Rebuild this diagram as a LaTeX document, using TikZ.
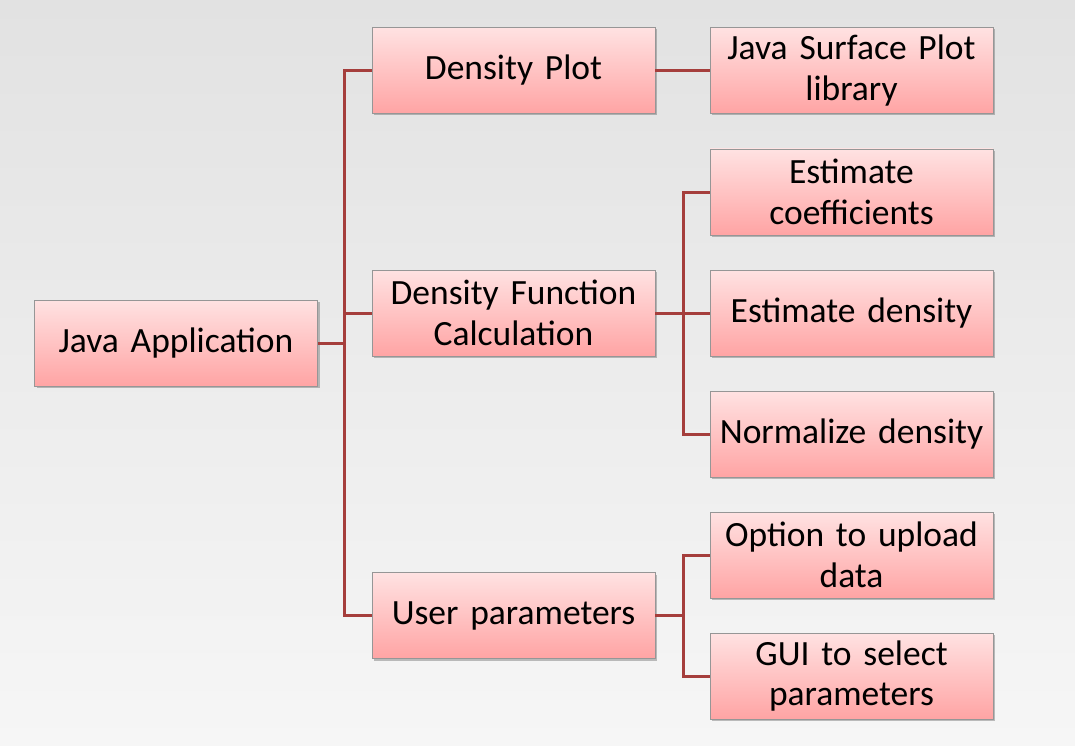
\documentclass[tikz,border=0pt]{standalone}
\usepackage{fontspec}
\setmainfont{Carlito}[WordSpace=0.85]
\usetikzlibrary{shadows}
\definecolor{linered}{RGB}{165,62,60}
\definecolor{boxtop}{RGB}{255,226,226}
\definecolor{boxbot}{RGB}{255,164,164}
\definecolor{boxline}{RGB}{150,150,150}
\definecolor{bgA}{RGB}{226,226,226}
\definecolor{bgB}{RGB}{246,246,246}
\tikzset{
  box/.style={draw=boxline, line width=0.8pt, top color=boxtop, bottom color=boxbot,
    minimum width=283pt, minimum height=86pt, inner sep=1pt, align=center,
    font=\fontsize{35.5}{40.5}\selectfont, text width=281pt,
    drop shadow={shadow xshift=2pt, shadow yshift=-2pt, opacity=0.35, fill=black!70}},
  conn/.style={draw=linered, line width=3pt}
}
\begin{document}
\begin{tikzpicture}[x=1pt,y=-1pt]
\shade[left color=bgA, right color=bgB, shading angle=0] (0,0) rectangle (1075,746);
\shade[top color=bgA, bottom color=bgB, opacity=0.5] (0,0) rectangle (1075,746);
\useasboundingbox (0,0) rectangle (1075,746);

\node[box] (app) at (176,343) {Java Application};
\node[box] (plot) at (513.5,70.5) {Density Plot};
\node[box] (calc) at (513.5,313) {Density Function\\Calculation};
\node[box] (user) at (513.5,615.5) {User parameters};
\node[box] (jsp) at (851.5,70.5) {Java Surface Plot\\library};
\node[box] (coef) at (851.5,192) {Estimate\\coefficients};
\node[box] (dens) at (851.5,313) {Estimate density};
\node[box] (norm) at (851.5,434) {Normalize density};
\node[box] (upl) at (851.5,555) {Option to upload\\data};
\node[box] (gui) at (851.5,676) {GUI to select\\parameters};

\coordinate (j1) at (344,343);
\coordinate (j2) at (683,313);
\coordinate (j3) at (683,615.5);

\draw[conn] (app.east) -- (j1);
\draw[conn] (j1) |- (plot.west);
\draw[conn] (j1) |- (calc.west);
\draw[conn] (j1) |- (user.west);
\draw[conn] (plot.east) -- (jsp.west);
\draw[conn] (calc.east) -- (j2);
\draw[conn] (j2) |- (coef.west);
\draw[conn] (j2) -- (dens.west);
\draw[conn] (j2) |- (norm.west);
\draw[conn] (user.east) -- (j3);
\draw[conn] (j3) |- (upl.west);
\draw[conn] (j3) |- (gui.west);
\end{tikzpicture}
\end{document}
